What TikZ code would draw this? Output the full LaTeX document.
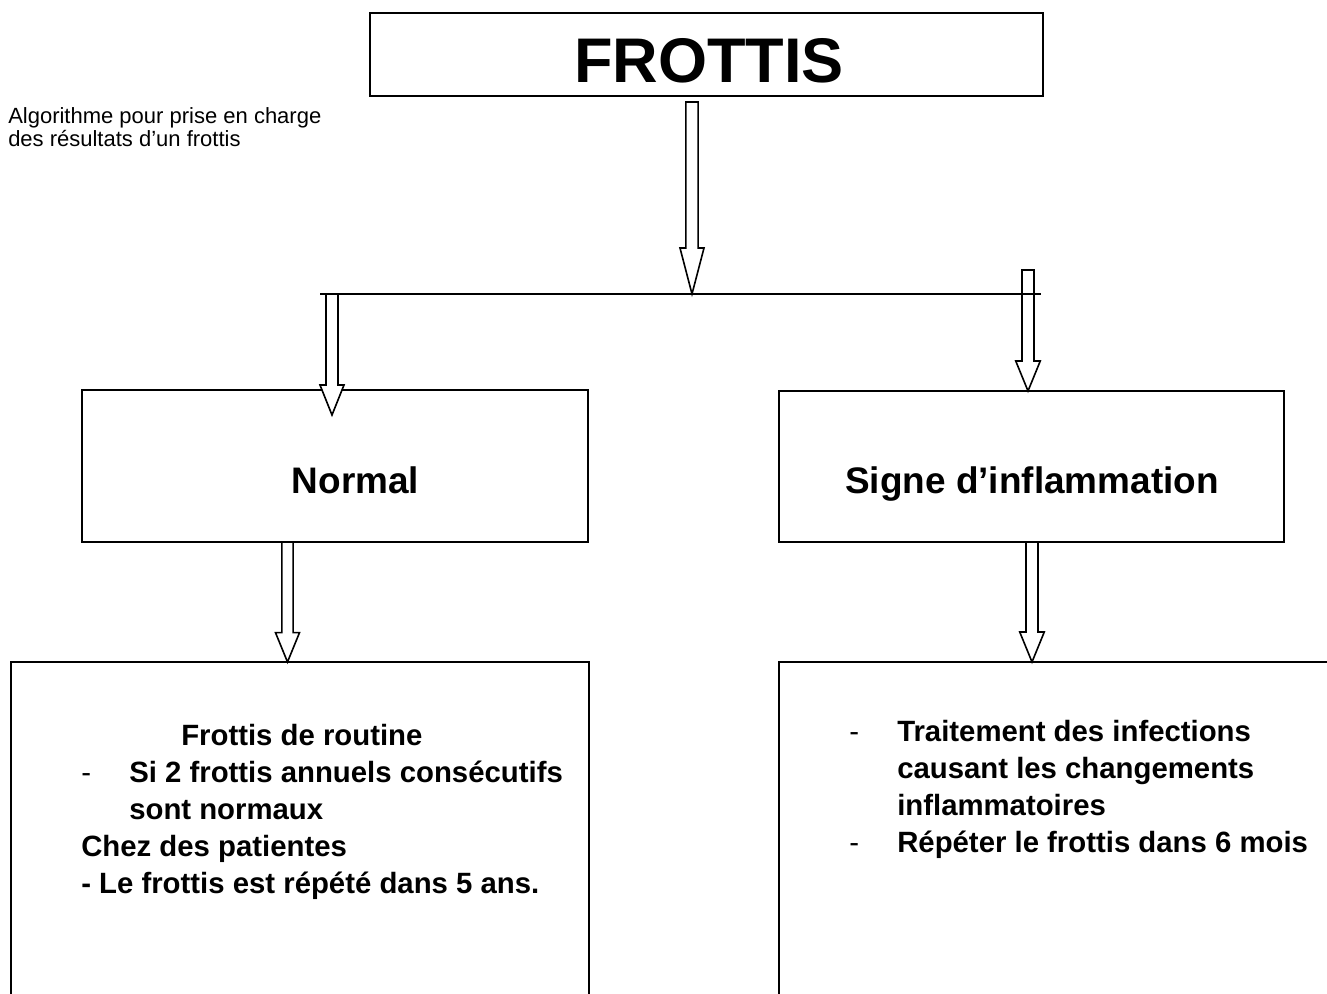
\documentclass[tikz,border=0pt]{standalone}
\usepackage{fontspec}
\setmainfont{Liberation Sans}
\usetikzlibrary{calc}

% vertical hollow block arrow: start, tip, shaft half width, head half width, head length
\newcommand\hollowarrow[5]{%
  \draw[arrowline] let \p1=(#1), \p2=(#2) in
    (\x1-#3,\y1) -- (\x1-#3,\y2+#5) -- (\x1-#4,\y2+#5) -- (\x1,\y2)
    -- (\x1+#4,\y2+#5) -- (\x1+#3,\y2+#5) -- (\x1+#3,\y1) -- cycle;}

\begin{document}
\begin{tikzpicture}[x=0.75pt,y=-0.75pt,
  box/.style={draw=black,line width=1.2pt,fill=white,rectangle,inner sep=0pt,outer sep=0pt},
  arrowline/.style={draw=black,line width=1.2pt,fill=white,line join=miter},
  junction/.style={draw=black,line width=1pt},
  bigtitle/.style={font=\fontsize{47.3}{50}\selectfont\bfseries,inner sep=0pt,anchor=base},
  heading/.style={font=\fontsize{27.7}{30}\selectfont\bfseries,inner sep=0pt,anchor=base},
  bodyline/.style={font=\fontsize{22}{24}\selectfont\bfseries,inner sep=0pt,anchor=base west},
  dashmark/.style={font=\fontsize{22}{24}\selectfont,inner sep=0pt,anchor=base west},
  note/.style={font=\fontsize{16.5}{17.25}\selectfont,inner sep=0pt,anchor=north west,align=left}]

\useasboundingbox (0,0) rectangle (1327,994);
\clip (0,0) rectangle (1327,994);

% boxes
\node[box,minimum width=504.75pt,minimum height=62.25pt] (top) at (706.5,54.5) {};
\node[box,minimum width=379.5pt,minimum height=114pt] (normal) at (335,466) {};
\node[box,minimum width=378.75pt,minimum height=113.25pt] (signe) at (1031.5,466.5) {};
\node[box,minimum width=433.5pt,minimum height=261pt] (nb) at (300,836) {};
\node[box,minimum width=428.25pt,minimum height=261pt] (nr) at (1064.5,836) {};

% titles
\node[bigtitle] (topText) at ($(top.south)+(2.5,-13)$) {FROTTIS};
\node[heading] (normalText) at ($(normal.center)+(20.5,27)$) {Normal};
\node[heading] (signeText) at ($(signe.center)+(0.5,27)$) {Signe d’inflammation};

\node[note] (intro) at (8,107.25) {Algorithme pour prise en charge\\des résultats d’un frottis};

% left result box
\node[bodyline] (l1) at ($(nb.north west)+(170,83)$) {Frottis de routine};
\node[dashmark] (l2d) at ($(nb.north west)+(70,120)$) {-};
\node[bodyline] (l2) at ($(nb.north west)+(118,120)$) {Si 2 frottis annuels consécutifs};
\node[bodyline] (l3) at ($(nb.north west)+(118,157)$) {sont normaux};
\node[bodyline] (l4) at ($(nb.north west)+(70,194)$) {Chez des patientes};
\node[bodyline] (l5) at ($(nb.north west)+(70,231)$) {- Le frottis est répété dans 5 ans.};

% right result box
\node[dashmark] (r1d) at ($(nr.north west)+(70,79)$) {-};
\node[bodyline] (r1) at ($(nr.north west)+(118,79)$) {Traitement des infections};
\node[bodyline] (r2) at ($(nr.north west)+(118,116)$) {causant les changements};
\node[bodyline] (r3) at ($(nr.north west)+(118,153)$) {inflammatoires};
\node[dashmark] (r4d) at ($(nr.north west)+(70,190)$) {-};
\node[bodyline] (r4) at ($(nr.north west)+(118,190)$) {Répéter le frottis dans 6 mois};

% branching line and arrows
\coordinate (jl) at (320,294);
\coordinate (jr) at (1041,294);
\coordinate (a0s) at ($(top.south)+(-14.5,6)$);
\coordinate (a1s) at ($(jl)+(12,0)$);
\coordinate (a2s) at ($(jr)+(-13,-24)$);
\coordinate (a3s) at ($(normal.south)+(-47.5,0)$);
\coordinate (a4s) at ($(signe.south)+(0.5,0)$);

\hollowarrow{a0s}{a0s |- jl}{4.6pt}{9pt}{34.5pt}
\hollowarrow{a1s}{$(a1s |- normal.north)+(0,25)$}{4.5pt}{9pt}{22.5pt}
\hollowarrow{a2s}{a2s |- signe.north}{4.5pt}{9.2pt}{22.5pt}
\hollowarrow{a3s}{a3s |- nb.north}{4.2pt}{9pt}{22pt}
\hollowarrow{a4s}{a4s |- nr.north}{4.5pt}{9.2pt}{22.5pt}

\draw[junction] (jl) -- (jr);
\end{tikzpicture}
\end{document}
